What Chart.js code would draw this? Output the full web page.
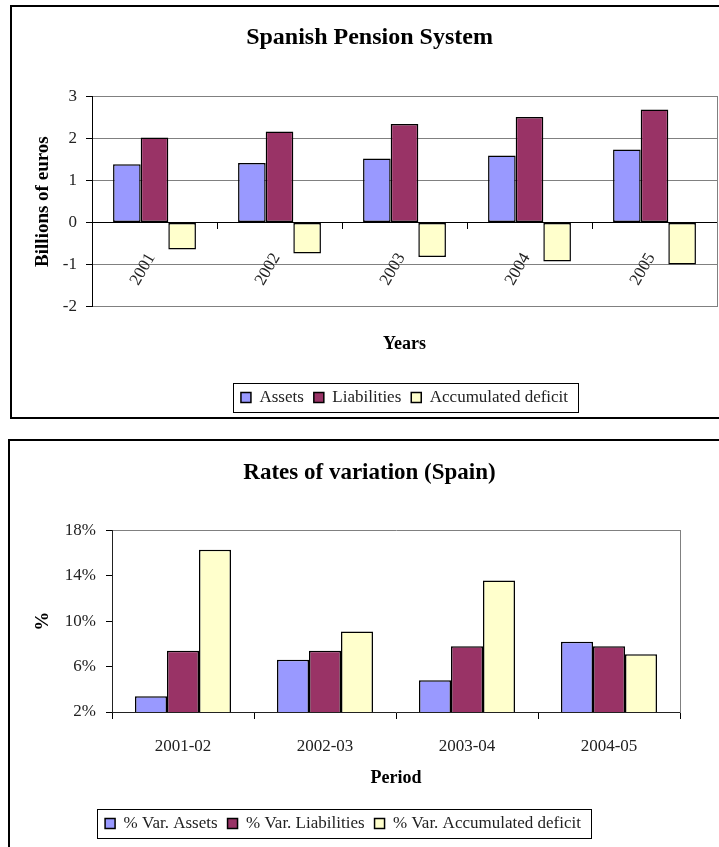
<!DOCTYPE html>
<html>
<head>
    <script src="https://cdn.jsdelivr.net/npm/chart.js@4.4.0/dist/chart.umd.min.js"></script>
    <style>
        body {
            margin: 0;
            background: #fff;
            overflow: hidden;
            width: 719px;
            height: 847px;
            position: relative;
        }
        canvas {
            position: absolute;
            left: 0;
        }
        .frame {
            position: absolute;
            border: 2px solid #000;
            pointer-events: none;
        }
        #frame1 { left: 10px; top: 5px; width: 740px; height: 410px; }
        #frame2 { left: 8px; top: 439px; width: 740px; height: 500px; }
    </style>
</head>
<body>
    <div class="frame" id="frame1"></div>
    <div class="frame" id="frame2"></div>
    <canvas id="pensionChart" width="739" height="420" style="top:0"></canvas>
    <canvas id="ratesChart" width="739" height="410" style="top:437px"></canvas>

    <script>
        // Top chart data (billions of euros)
        var years = ['2001', '2002', '2003', '2004', '2005'];
        var assets = [1.39, 1.42, 1.53, 1.60, 1.74];
        var liabilities = [2.03, 2.17, 2.35, 2.52, 2.70];
        var deficit = [-0.64, -0.74, -0.82, -0.93, -1.00];
        var yearTicks = [-2, -1, 0, 1, 2, 3];

        // Bottom chart data (% variation)
        var periods = ['2001-02', '2002-03', '2003-04', '2004-05'];
        var varAssets = [3.4, 6.6, 4.8, 8.2];
        var varLiabilities = [7.4, 7.4, 7.8, 7.8];
        var varDeficit = [16.3, 9.1, 13.6, 7.1];
        var rateTicks = [2, 6, 10, 14, 18];

        var colAssets = '#9999FF';
        var colLiab = '#993366';
        var colDeficit = '#FFFFCC';

        Chart.defaults.font.family = "'Liberation Serif', 'DejaVu Serif', serif";
        Chart.defaults.color = '#222';

        // draws the thin box round the legend, and lets the legend be moved sideways
        var legendFrame = {
            id: 'legendFrame',
            afterLayout: function(chart, args, opts) {
                var shift = (opts && opts.shift) || 0;
                chart.legend.left += shift;
                chart.legend.right += shift;
            },
            afterDraw: function(chart) {
                var boxes = chart.legend && chart.legend.legendHitBoxes;
                if (!boxes || !boxes.length) return;
                var left = Math.min.apply(null, boxes.map(function(b) { return b.left; })) - 8;
                var right = Math.max.apply(null, boxes.map(function(b) { return b.left + b.width; })) + 10;
                var top = Math.min.apply(null, boxes.map(function(b) { return b.top; })) - 6;
                var bottom = Math.max.apply(null, boxes.map(function(b) { return b.top + b.height; })) + 6;
                var ctx = chart.ctx;
                ctx.save();
                ctx.strokeStyle = '#000';
                ctx.lineWidth = 1;
                ctx.strokeRect(Math.round(left) + 0.5, Math.round(top) + 0.5, Math.round(right - left), Math.round(bottom - top));
                ctx.restore();
            }
        };

        function makeDatasets(labels, series) {
            var colors = [colAssets, colLiab, colDeficit];
            return series.map(function(s, i) {
                return {
                    label: labels[i],
                    data: s,
                    backgroundColor: colors[i],
                    borderColor: '#000',
                    borderWidth: 1.5,
                    borderSkipped: false
                };
            });
        }

        new Chart(document.getElementById('pensionChart'), {
            type: 'bar',
            data: {
                labels: years,
                datasets: makeDatasets(['Assets', 'Liabilities', 'Accumulated deficit'], [assets, liabilities, deficit])
            },
            options: {
                responsive: false,
                animation: false,
                layout: { padding: { left: 0, right: 0, top: 0, bottom: 4 } },
                datasets: { bar: { categoryPercentage: 0.663, barPercentage: 1 } },
                scales: {
                    x: {
                        position: { y: 0 },
                        grid: { offset: true, drawOnChartArea: false, tickLength: 6, tickColor: '#000' },
                        border: { color: '#000' },
                        ticks: { minRotation: 60, maxRotation: 60, padding: 21, labelOffset: -3, font: { size: 17 } }
                    },
                    y: {
                        min: yearTicks[0],
                        max: yearTicks[yearTicks.length - 1],
                        afterBuildTicks: function(s) { s.ticks = yearTicks.map(function(v) { return { value: v }; }); },
                        ticks: { padding: 9, font: { size: 17 } },
                        grid: { color: '#808080', tickLength: 6, tickColor: '#000' },
                        border: { color: '#000' },
                        title: { display: true, text: 'Billions of euros', color: '#000', font: { size: 19, weight: 'bold' }, padding: { top: 32, bottom: 0 } },
                        afterFit: function(s) { s.width = 92; }
                    },
                    y2: {
                        position: 'right',
                        min: -2,
                        max: 3,
                        ticks: { display: false },
                        grid: { drawOnChartArea: false, drawTicks: false },
                        border: { color: '#808080' },
                        afterFit: function(s) { s.width = 22; }
                    }
                },
                plugins: {
                    title: {
                        display: true,
                        text: 'Spanish Pension System',
                        color: '#000',
                        font: { size: 24, weight: 'bold' },
                        padding: { top: 23, bottom: 45 }
                    },
                    subtitle: {
                        display: true,
                        text: 'Years',
                        position: 'bottom',
                        fullSize: false,
                        weight: 500,
                        color: '#000',
                        font: { size: 18, weight: 'bold' },
                        padding: { top: 27, bottom: 24 }
                    },
                    legend: {
                        position: 'bottom',
                        fullSize: false,
                        labels: { boxWidth: 10, boxHeight: 10, padding: 10, font: { size: 17 } }
                    },
                    legendFrame: { shift: 0 },
                    tooltip: { enabled: false }
                }
            },
            plugins: [legendFrame]
        });

        new Chart(document.getElementById('ratesChart'), {
            type: 'bar',
            data: {
                labels: periods,
                datasets: makeDatasets(['% Var. Assets', '% Var. Liabilities', '% Var. Accumulated deficit'], [varAssets, varLiabilities, varDeficit])
            },
            options: {
                responsive: false,
                animation: false,
                layout: { padding: { left: 0, right: 0, top: 0, bottom: 5 } },
                datasets: { bar: { categoryPercentage: 0.676, barPercentage: 1 } },
                scales: {
                    x: {
                        grid: { offset: true, drawOnChartArea: false, tickLength: 7, tickColor: '#000' },
                        border: { color: '#222' },
                        ticks: { padding: 17, font: { size: 17 } },
                        title: { display: true, text: 'Period', color: '#000', font: { size: 18, weight: 'bold' }, padding: { top: 0, bottom: 16 } },
                        afterFit: function(s) { s.height = 93; }
                    },
                    y: {
                        min: rateTicks[0],
                        max: rateTicks[rateTicks.length - 1],
                        afterBuildTicks: function(s) { s.ticks = rateTicks.map(function(v) { return { value: v }; }); },
                        ticks: { padding: 10, font: { size: 17 }, callback: function(v) { return v + '%'; } },
                        grid: {
                            color: function(c) { return c.tick && c.tick.value === rateTicks[rateTicks.length - 1] ? '#808080' : 'rgba(0,0,0,0)'; },
                            tickLength: 6,
                            tickColor: '#000'
                        },
                        border: { color: '#222' },
                        title: { display: true, text: '%', color: '#000', font: { size: 19, weight: 'bold' }, padding: { top: 32, bottom: 0 } },
                        afterFit: function(s) { s.width = 112; }
                    },
                    y2: {
                        position: 'right',
                        min: 2,
                        max: 18,
                        ticks: { display: false },
                        grid: { drawOnChartArea: false, drawTicks: false },
                        border: { color: '#808080' },
                        afterFit: function(s) { s.width = 59; }
                    }
                },
                plugins: {
                    title: {
                        display: true,
                        text: 'Rates of variation (Spain)',
                        color: '#000',
                        font: { size: 23, weight: 'bold' },
                        padding: { top: 22, bottom: 44 }
                    },
                    legend: {
                        position: 'bottom',
                        fullSize: false,
                        labels: { boxWidth: 10, boxHeight: 10, padding: 10, font: { size: 17 } }
                    },
                    legendFrame: { shift: -53 },
                    tooltip: { enabled: false }
                }
            },
            plugins: [legendFrame]
        });
    </script>
</body>
</html>
